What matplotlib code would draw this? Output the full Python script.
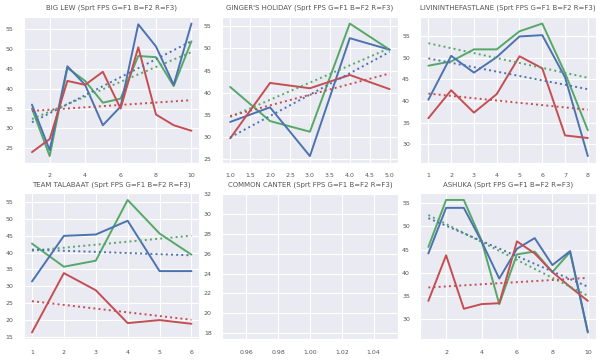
import numpy as np
import matplotlib
matplotlib.use('Agg')
import matplotlib.pyplot as plt
from matplotlib.ticker import MultipleLocator
import seaborn as sns

# values, one series per fps column
big_lew_g = [35, 23, 45.3, 42, 36.5, 37.5, 48.3, 48, 40.7, 52]
big_lew_b = [36, 24.5, 45.7, 41, 30.8, 35.5, 56.3, 50.7, 41, 56.5]
big_lew_r = [24, 27.3, 42, 41, 44.3, 35, 50.5, 33.5, 30.8, 29.4]

ginger_g = [41.3, 33.6, 31.2, 55.6, 49.7]
ginger_b = [33.4, 36.7, 25.7, 52.3, 49.7]
ginger_r = [29.7, 42.2, 41, 44, 40.8]

fastlane_g = [48.2, 49.2, 52, 52, 56.2, 58, 46.5, 33.2]
fastlane_b = [40.3, 50.5, 46.6, 50.2, 55, 55.3, 45.5, 27.2]
fastlane_r = [36, 42.5, 37.3, 41.6, 50.4, 47.6, 32, 31.4]

talabaat_g = [42.7, 35.8, 37.6, 55.7, 45.7, 39.4]
talabaat_b = [31.4, 45, 45.4, 49.5, 34.5, 34.5]
talabaat_r = [16.2, 33.9, 28.8, 19, 19.9, 18.8]

ashuka_g = [45.6, 55.7, 55.7, 47, 33.3, 44, 44.6, 40.2, 44.5, 27.2]
ashuka_b = [44.2, 54, 54, 46.8, 38.8, 45.2, 47.5, 41.7, 44.7, 27.3]
ashuka_r = [34, 43.8, 32.3, 33.3, 33.5, 46.8, 44.2, 40.2, 37, 34]

teams = [
    ("BIG LEW", (big_lew_g, big_lew_b, big_lew_r), 2, 5),
    ("GINGER'S HOLIDAY", (ginger_g, ginger_b, ginger_r), 0.5, 5),
    ("LIVININTHEFASTLANE", (fastlane_g, fastlane_b, fastlane_r), 1, 5),
    ("TEAM TALABAAT", (talabaat_g, talabaat_b, talabaat_r), 1, 5),
    ("COMMON CANTER", None, 0.02, 2),
    ("ASHUKA", (ashuka_g, ashuka_b, ashuka_r), 2, 5),
]

colors = ['#55A868', '#4C72B0', '#C44E52']

sns.set_style('darkgrid')
plt.rcParams['font.family'] = ['DejaVu Sans']

fig, axes = plt.subplots(2, 3, figsize=(6, 3.6), dpi=100)
fig.subplots_adjust(left=0.04, right=0.993, top=0.953, bottom=0.058,
                    wspace=0.13, hspace=0.21)

for ax, (name, series, xstep, ystep) in zip(axes.flat, teams):
    ax.set_title(f'{name} (Sprt FPS G=F1 B=F2 R=F3)', fontsize=5,
                 color='#555555', pad=5)
    if series is None:
        # no data for this horse, axes left empty
        ax.set_xlim(0.945, 1.055)
        ax.set_ylim(17.4, 32.1)
    else:
        for y, c in zip(series, colors):
            x = np.arange(1, len(y) + 1)
            ax.plot(x, y, color=c, lw=1.4)
        for y, c in zip(series, colors):
            x = np.arange(1, len(y) + 1)
            k, b = np.polyfit(x, y, 1)
            ax.plot(x, k * x + b, color=c, lw=1.4, ls=':')
    ax.xaxis.set_major_locator(MultipleLocator(xstep))
    ax.yaxis.set_major_locator(MultipleLocator(ystep))
    ax.tick_params(labelsize=4.5, colors='#555555', pad=4)
    ax.grid(color='white', lw=0.8)

fig.savefig('out.png', dpi=100)
